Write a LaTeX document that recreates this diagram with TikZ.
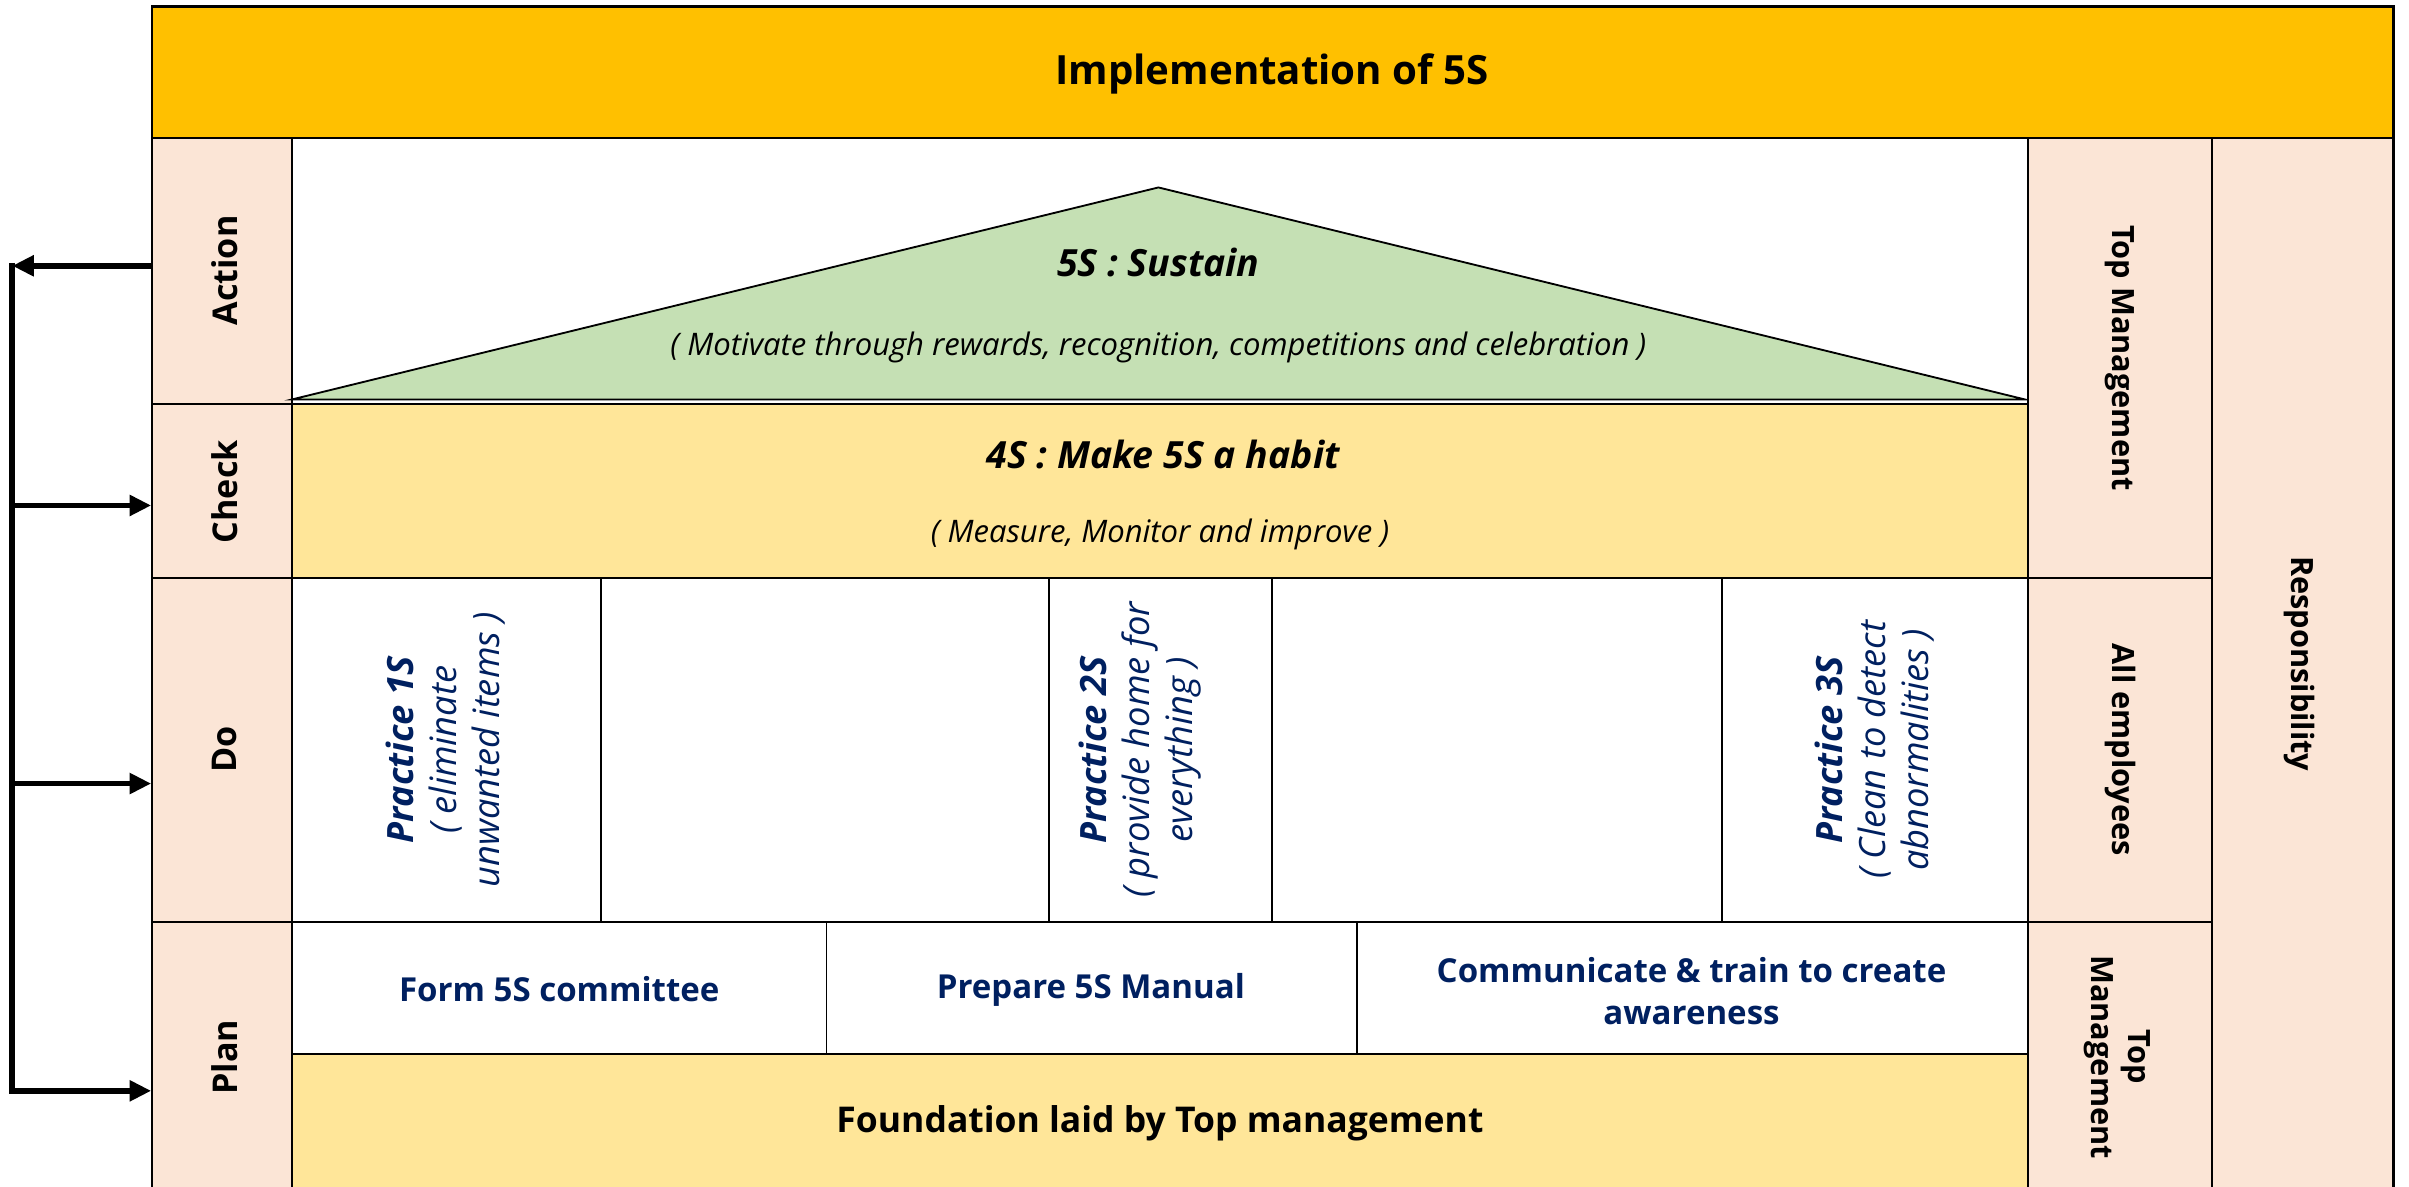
\documentclass[tikz,border=0pt]{standalone}
\usepackage{fontspec}
\setmainfont{Open Sans}
\usetikzlibrary{arrows.meta,fit}
\definecolor{titleorange}{HTML}{FFC000}
\definecolor{peach}{HTML}{FBE5D6}
\definecolor{paleyellow}{HTML}{FFE699}
\definecolor{palegreen}{HTML}{C5E0B4}
\definecolor{navy}{HTML}{002060}
\begin{document}
\begin{tikzpicture}[x=0.5pt,y=-0.5pt,
  box/.style={draw=black, line width=0.6pt, inner sep=0pt},
  peachbox/.style={box, fill=peach},
  sidelabel/.style={font=\bfseries\fontsize{11.1}{13}\selectfont, rotate=90},
  resplabel/.style={font=\bfseries\fontsize{10}{12}\selectfont, rotate=-90, align=center},
  heading/.style={font=\bfseries\itshape\fontsize{12.2}{14}\selectfont},
  subtext/.style={font=\itshape\fontsize{10.1}{12}\selectfont},
  practice/.style={text=navy, rotate=90, align=center, font=\itshape\fontsize{11.8}{14}\selectfont},
  plantext/.style={text=navy, align=center, font=\bfseries\fontsize{10.75}{13.5}\selectfont},
  pdcaarrow/.style={line width=1.9pt, -{Triangle[length=7pt,width=6.5pt]}},
  pdcaline/.style={line width=1.9pt}
]
\useasboundingbox (0,0) rectangle (1568,772);
% title
\node[box, fill=titleorange, line width=0.9pt, fit={(99,4)(1558,90)}] (title) {};
\node[font=\bfseries\fontsize{13.1}{15}\selectfont] (titletext) at (828,48) {Implementation of 5S};
% left column
\node[peachbox, fit={(99,90)(190,263)}] (action) {};
\node[peachbox, fit={(99,263)(190,376)}] (check) {};
\node[peachbox, fit={(99,376)(190,600)}] (do) {};
\node[peachbox, fit={(99,600)(190,780)}] (plan) {};
\node[sidelabel] (actiontext) at (146,176) {Action};
\node[sidelabel] (checktext) at (146,320) {Check};
\node[sidelabel] (dotext) at (146,488) {Do};
\node[sidelabel] (plantext) at (146,688) {Plan};
% action row
\node[box, fill=white, fit={(190,90)(1320,263)}] (actionrow) {};
\draw[fill=palegreen, line width=0.6pt] (190,260) -- (754,122) -- (1318,260) -- cycle;
\node[heading] (sustain) at (754,171) {5S : Sustain};
\node[subtext] (sustainsub) at (754,226) {( Motivate through rewards, recognition, competitions and celebration )};
% check row
\node[box, fill=paleyellow, fit={(190,263)(1320,376)}] (checkrow) {};
\node[heading] (habit) at (757,296) {4S : Make 5S a habit};
\node[subtext] (habitsub) at (755,348) {( Measure, Monitor and improve )};
% do row
\node[box, fill=white, fit={(190,376)(391,600)}] (do1) {};
\node[box, fill=white, fit={(391,376)(683,600)}] (do2) {};
\node[box, fill=white, fit={(683,376)(828,600)}] (do3) {};
\node[box, fill=white, fit={(828,376)(1121,600)}] (do4) {};
\node[box, fill=white, fit={(1121,376)(1320,600)}] (do5) {};
\node[practice] (p1) at (290,488) {\textbf{Practice 1S}\\( eliminate\\unwanted items )};
\node[practice] (p2) at (742,488) {\textbf{Practice 2S}\\( provide home for\\everything )};
\node[practice] (p3) at (1220,488) {\textbf{Practice 3S}\\( Clean to detect\\abnormalities )};
% plan row
\node[box, fill=white, fit={(190,600)(538,686)}] (plan1) {};
\node[box, fill=white, fit={(538,600)(883,686)}] (plan2) {};
\node[box, fill=white, fit={(883,600)(1320,686)}] (plan3) {};
\node[plantext] (plan1text) at (364,644) {Form 5S committee};
\node[plantext] (plan2text) at (710,644) {Prepare 5S Manual};
\node[plantext] (plan3text) at (1101,645) {Communicate \& train to create\\awareness};
\node[box, fill=paleyellow, fit={(190,686)(1320,780)}] (foundation) {};
\node[font=\bfseries\fontsize{11.55}{13}\selectfont] (foundtext) at (755,731) {Foundation laid by Top management};
% right columns
\node[peachbox, fit={(1320,90)(1440,376)}] (resp1) {};
\node[peachbox, fit={(1320,376)(1440,600)}] (resp2) {};
\node[peachbox, fit={(1320,600)(1440,780)}] (resp3) {};
\node[peachbox, fit={(1440,90)(1558,780)}] (respcol) {};
\node[resplabel] (resp1text) at (resp1.center) {Top Management};
\node[resplabel] (resp2text) at (resp2.center) {All employees};
\node[resplabel] (resp3text) at (1378,688) {Top\\Management};
\node[resplabel] (resptext) at (1497,432) {Responsibility};
% outer frame
\draw[line width=0.9pt] (99,780) -- (99,4) -- (1558,4) -- (1558,780);
% PDCA loop
\coordinate (vtop) at (8,173);
\coordinate (vcheck) at (8,329);
\coordinate (vdo) at (8,510);
\coordinate (vplan) at (8,710);
\draw[pdcaarrow] (action.west |- vtop) -- (vtop);
\draw[pdcaline] ([yshift=0.95pt]vtop) -- ([yshift=-0.95pt]vplan);
\draw[pdcaarrow] (vcheck) -- (check.west |- vcheck);
\draw[pdcaarrow] (vdo) -- (do.west |- vdo);
\draw[pdcaarrow] (vplan) -- (plan.west |- vplan);
\end{tikzpicture}
\end{document}
